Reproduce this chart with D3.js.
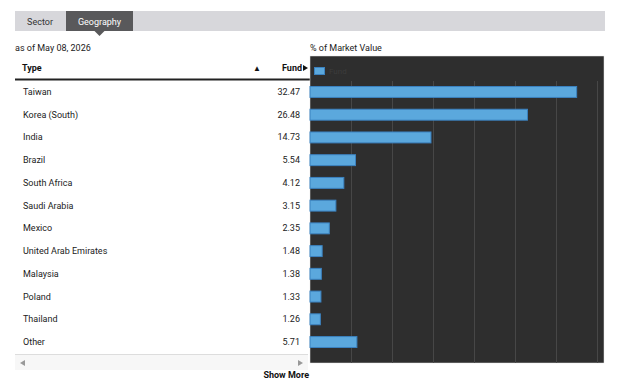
<!DOCTYPE html>
<html>
<head>
<meta charset="utf-8">
<script src="https://cdn.jsdelivr.net/npm/d3@7"></script>
<style>
  html, body { margin: 0; padding: 0; background: #fff; }
  svg { display: block; font-family: Roboto, "Open Sans", sans-serif; }
</style>
</head>
<body>
<svg id="chart" width="640" height="386"></svg>
<script>
const tabs = ["Sector", "Geography"];
const activeTab = "Geography";
const asOfLabel = "as of May 08, 2026";
const chartTitle = "% of Market Value";
const seriesName = "Fund";
const countries = ["Taiwan", "Korea (South)", "India", "Brazil", "South Africa", "Saudi Arabia",
  "Mexico", "United Arab Emirates", "Malaysia", "Poland", "Thailand", "Other"];
const fundValues = [32.47, 26.48, 14.73, 5.54, 4.12, 3.15, 2.35, 1.48, 1.38, 1.33, 1.26, 5.71];
const gridTicks = [5, 10, 15, 20, 25, 30, 35];

const svg = d3.select("#chart");

// tab bar
svg.append("rect").attr("x", 15).attr("y", 11).attr("width", 590).attr("height", 20).attr("fill", "#d7d7db");
const tabX = [15, 66];
const tabW = [50, 67];
tabs.forEach((t, i) => {
  const on = t === activeTab;
  svg.append("rect").attr("x", tabX[i]).attr("y", 11).attr("width", tabW[i]).attr("height", 20)
    .attr("fill", on ? "#59595b" : "#d7d7db");
  svg.append("text").attr("x", tabX[i] + tabW[i] / 2).attr("y", 24.5)
    .attr("text-anchor", "middle").attr("font-size", 9)
    .attr("fill", on ? "#fff" : "#333").text(t);
  if (on) {
    const cx = tabX[i] + tabW[i] / 2;
    svg.append("path").attr("d", `M${cx - 5},31L${cx + 5},31L${cx},36Z`).attr("fill", "#59595b");
  }
});

svg.append("text").attr("x", 15).attr("y", 51).attr("font-size", 9).attr("fill", "#222").text(asOfLabel);
svg.append("text").attr("x", 310).attr("y", 51).attr("font-size", 9).attr("fill", "#222").text(chartTitle);

// scales
const y = d3.scaleBand().domain(countries).range([80.6, 353.4]).paddingInner(0.52).paddingOuter(0.26);
const x = d3.scaleLinear().domain([0, 35.8]).range([310, 604]);

// table header
svg.append("text").attr("x", 22).attr("y", 71).attr("font-size", 9).attr("font-weight", "bold").attr("fill", "#111").text("Type");
svg.append("text").attr("x", 257).attr("y", 71).attr("font-size", 8).attr("text-anchor", "middle").attr("fill", "#111").text("▲");
svg.append("text").attr("x", 302).attr("y", 71).attr("font-size", 9).attr("font-weight", "bold").attr("text-anchor", "end").attr("fill", "#111").text(seriesName);
svg.append("path").attr("d", "M303,65L308,68L303,71Z").attr("fill", "#111");
svg.append("line").attr("x1", 15).attr("x2", 310).attr("y1", 79.5).attr("y2", 79.5).attr("stroke", "#222").attr("stroke-width", 2);

// table rows
const rows = svg.append("g");
rows.selectAll("text.name").data(countries).join("text").attr("class", "name")
  .attr("x", 23).attr("y", d => y(d) + y.bandwidth() / 2 + 3)
  .attr("font-size", 9).attr("fill", "#222").text(d => d);
rows.selectAll("text.val").data(fundValues).join("text").attr("class", "val")
  .attr("x", 300).attr("y", (d, i) => y(countries[i]) + y.bandwidth() / 2 + 3)
  .attr("text-anchor", "end").attr("font-size", 9).attr("fill", "#222").text(d => d.toFixed(2));

svg.append("line").attr("x1", 15).attr("x2", 308).attr("y1", 354.5).attr("y2", 354.5).attr("stroke", "#ddd");
svg.append("rect").attr("x", 15).attr("y", 355).attr("width", 293).attr("height", 15).attr("fill", "#f7f7f7");
svg.append("path").attr("d", "M20,363L25,360L25,366Z").attr("fill", "#999");
svg.append("path").attr("d", "M303,363L298,360L298,366Z").attr("fill", "#999");
svg.append("text").attr("x", 309).attr("y", 378).attr("text-anchor", "end").attr("font-size", 9)
  .attr("font-weight", "bold").attr("fill", "#111").text("Show More");

// chart panel
svg.append("rect").attr("x", 310).attr("y", 56).attr("width", 294).attr("height", 307)
  .attr("fill", "#2e2e2e").attr("stroke", "#e6e6e6").attr("stroke-width", 0.5);

svg.append("g").selectAll("line").data(gridTicks).join("line")
  .attr("x1", d => Math.round(x(d)) + 0.5).attr("x2", d => Math.round(x(d)) + 0.5)
  .attr("y1", 81).attr("y2", 363).attr("stroke", "#474747");

// legend
svg.append("rect").attr("x", 314.5).attr("y", 67.5).attr("width", 10).attr("height", 7)
  .attr("fill", "#5ba8dd").attr("stroke", "#3b82c0");
svg.append("text").attr("x", 329).attr("y", 74).attr("font-size", 8).attr("fill", "#3c3c3c").text(seriesName);

// bars
svg.append("g").selectAll("rect").data(fundValues).join("rect")
  .attr("x", x(0)).attr("y", (d, i) => y(countries[i]))
  .attr("width", d => x(d) - x(0)).attr("height", y.bandwidth())
  .attr("fill", "#5ba8dd").attr("stroke", "#3b82c0").attr("stroke-width", 1);
</script>
</body>
</html>
